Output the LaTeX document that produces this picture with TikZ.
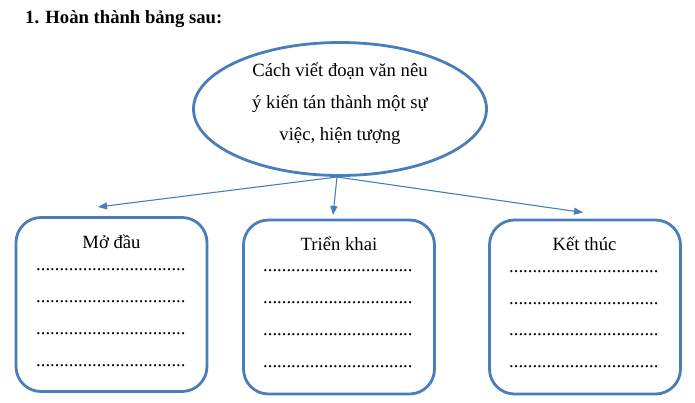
\documentclass[tikz,border=0pt]{standalone}
\usepackage{fontspec}
\setmainfont{Liberation Serif}
\usetikzlibrary{shapes.geometric,arrows.meta}
\definecolor{accent}{RGB}{74,126,187}
\newcommand{\dotline}{................................}
\tikzset{
  big/.style={font=\fontsize{18.67}{32}\selectfont},
  topicshape/.style={draw=accent,line width=2.8pt,ellipse,minimum width=293pt,minimum height=133pt,inner sep=0pt},
  partbox/.style={draw=accent,line width=2.8pt,rounded corners=25pt,minimum width=191pt,minimum height=174pt,inner sep=0pt},
  head/.style={big,anchor=base,inner sep=0pt},
  dots/.style={big,anchor=base west,inner sep=0pt},
  link/.style={draw=accent,line width=1.1pt,-{Triangle[length=9pt,width=7pt]}}
}
\begin{document}
\begin{tikzpicture}[x=1pt,y=-1pt]
\useasboundingbox (0,0) rectangle (695,402);
\node[big,font=\fontsize{18.67}{22}\selectfont\bfseries,anchor=base west,inner sep=0pt] (title) at (25,23.5) {1. Hoàn thành bảng sau:};
\node[topicshape] (topic) at (340,109) {};
\node[big,align=center,inner sep=0pt] (topictext) at (340,103.3) {Cách viết đoạn văn nêu\\ý kiến tán thành một sự\\việc, hiện tượng};
\node[partbox] (b1) at (111.5,304.5) {};
\node[partbox] (b2) at (339,307) {};
\node[partbox] (b3) at (585,307) {};
\node[head] (h1) at (111.5,248.3) {Mở đầu};
\node[head] (h2) at (339,250) {Triển khai};
\node[head] (h3) at (584.5,250.5) {Kết thúc};
\node[dots] (d11) at (36,270) {\dotline};
\node[dots] (d12) at (36,302) {\dotline};
\node[dots] (d13) at (36,334) {\dotline};
\node[dots] (d14) at (36,366) {\dotline};
\node[dots] (d21) at (263,271.7) {\dotline};
\node[dots] (d22) at (263,303.7) {\dotline};
\node[dots] (d23) at (263,335.7) {\dotline};
\node[dots] (d24) at (263,367.5) {\dotline};
\node[dots] (d31) at (509,272.3) {\dotline};
\node[dots] (d32) at (509,304) {\dotline};
\node[dots] (d33) at (509,335.7) {\dotline};
\node[dots] (d34) at (509,367.7) {\dotline};
\coordinate (hub) at (337,177);
\coordinate (t1) at (98,207);
\coordinate (t2) at (333,215);
\coordinate (t3) at (583,212.5);
\draw[link] (hub) -- (t1);
\draw[link] (hub) -- (t2);
\draw[link] (hub) -- (t3);
\end{tikzpicture}
\end{document}
